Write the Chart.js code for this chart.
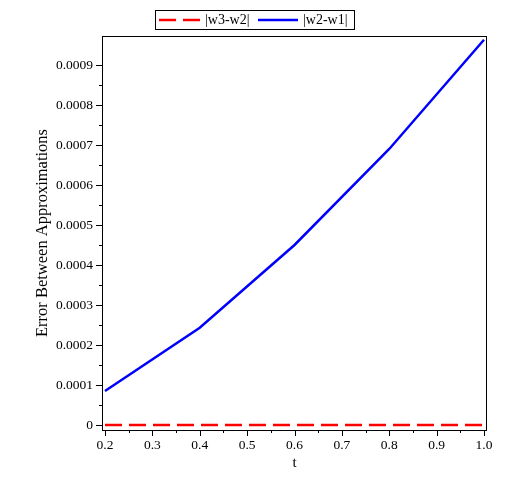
<!DOCTYPE html>
<html>
<head>
<meta charset="utf-8">
<script src="https://cdn.jsdelivr.net/npm/chart.js@4"></script>
<style>
  html, body { margin: 0; padding: 0; background: #fff; }
  #wrap { width: 516px; height: 488px; }
</style>
</head>
<body>
<div id="wrap"><canvas id="myChart" width="516" height="488"></canvas></div>
<script>
// values
const tValues = [0.2, 0.4, 0.6, 0.8, 1.0]
const err32 = [0, 0, 0, 0, 0]                                   // |w3-w2|
const err21 = [0.000085, 0.000243, 0.00045, 0.00069, 0.000963]  // |w2-w1|

const xTicks = [0.2, 0.3, 0.4, 0.5, 0.6, 0.7, 0.8, 0.9, 1.0]
const xTickLabels = ['0.2', '0.3', '0.4', '0.5', '0.6', '0.7', '0.8', '0.9', '1.0']
const yTicks = [0, 0.0001, 0.0002, 0.0003, 0.0004, 0.0005, 0.0006, 0.0007, 0.0008, 0.0009]
const yTickLabels = ['0', '0.0001', '0.0002', '0.0003', '0.0004', '0.0005', '0.0006', '0.0007', '0.0008', '0.0009']

const FONT = '"Liberation Serif", "Times New Roman", serif'

function toPoints(ys) {
  return tValues.map((t, i) => ({ x: t, y: ys[i] }))
}

function midpoints(arr) {
  const out = []
  for (let i = 0; i < arr.length - 1; i++) out.push((arr[i] + arr[i + 1]) / 2)
  return out
}

// box round the plot + outward tick marks
const frame = {
  id: 'frame',
  afterDraw(chart) {
    const { ctx, chartArea: a, scales: { x, y } } = chart
    ctx.save()
    ctx.strokeStyle = '#000'
    ctx.lineWidth = 1
    ctx.strokeRect(a.left + 0.5, a.top + 0.5, a.right - a.left - 1, a.bottom - a.top)
    ctx.beginPath()
    xTicks.forEach(v => {
      const px = Math.round(x.getPixelForValue(v)) + 0.5
      ctx.moveTo(px, a.bottom); ctx.lineTo(px, a.bottom + 6)
    })
    midpoints(xTicks).forEach(v => {
      const px = Math.round(x.getPixelForValue(v)) + 0.5
      ctx.moveTo(px, a.bottom); ctx.lineTo(px, a.bottom + 3)
    })
    yTicks.forEach(v => {
      const py = Math.round(y.getPixelForValue(v)) + 0.5
      ctx.moveTo(a.left, py); ctx.lineTo(a.left - 6, py)
    })
    midpoints(yTicks).forEach(v => {
      const py = Math.round(y.getPixelForValue(v)) + 0.5
      ctx.moveTo(a.left, py); ctx.lineTo(a.left - 3, py)
    })
    ctx.stroke()
    ctx.restore()
  }
}

// boxed legend on top
const boxLegend = {
  id: 'boxLegend',
  afterDraw(chart) {
    const ctx = chart.ctx
    const ds = chart.data.datasets
    ctx.save()
    ctx.strokeStyle = '#000'
    ctx.lineWidth = 1
    ctx.strokeRect(155.5, 10.5, 199, 19)
    ctx.font = '14px ' + FONT
    ctx.textBaseline = 'middle'
    ctx.fillStyle = '#000'
    const items = [
      { x0: 159, x1: 200, tx: 205 },
      { x0: 258, x1: 298, tx: 303 }
    ]
    items.forEach((it, i) => {
      ctx.beginPath()
      ctx.strokeStyle = ds[i].borderColor
      ctx.lineWidth = 2.5
      ctx.setLineDash(ds[i].borderDash || [])
      ctx.moveTo(it.x0, 20); ctx.lineTo(it.x1, 20)
      ctx.stroke()
      ctx.setLineDash([])
      ctx.fillText(ds[i].label, it.tx, 20)
    })
    ctx.restore()
  }
}

const ctx = document.getElementById('myChart')

new Chart(ctx, {
  type: 'line',
  data: {
    datasets: [{
      label: '|w3-w2|',
      data: toPoints(err32),
      borderColor: '#ff0000',
      borderWidth: 2.5,
      borderDash: [17, 7],
      pointRadius: 0,
      fill: false
    }, {
      label: '|w2-w1|',
      data: toPoints(err21),
      borderColor: '#0000ff',
      borderWidth: 2.5,
      pointRadius: 0,
      fill: false
    }]
  },
  options: {
    responsive: false,
    animation: false,
    layout: { padding: { top: 36, right: 29, left: 0, bottom: 0 } },
    plugins: {
      legend: { display: false },
      tooltip: { enabled: false }
    },
    scales: {
      x: {
        type: 'linear',
        min: 0.19367,
        max: 1.00633,
        afterBuildTicks: s => { s.ticks = xTicks.map(v => ({ value: v })) },
        afterFit: s => { s.height = 58 },
        grid: { display: false, drawTicks: false },
        border: { display: false },
        ticks: {
          autoSkip: false,
          maxRotation: 0,
          padding: 7,
          color: '#000',
          font: { family: FONT, size: 13.5 },
          callback: v => xTickLabels[xTicks.indexOf(v)]
        },
        title: {
          display: true,
          text: 't',
          color: '#000',
          font: { family: FONT, size: 15 },
          padding: { top: 0, bottom: 16 }
        }
      },
      y: {
        type: 'linear',
        min: -0.0000125,
        max: 0.0009725,
        afterBuildTicks: s => { s.ticks = yTicks.map(v => ({ value: v })) },
        afterFit: s => { s.width = 102 },
        grid: { display: false, drawTicks: false },
        border: { display: false },
        ticks: {
          autoSkip: false,
          padding: 9,
          color: '#000',
          font: { family: FONT, size: 13.5 },
          callback: v => yTickLabels[yTicks.indexOf(v)]
        },
        title: {
          display: true,
          text: 'Error Between Approximations',
          color: '#000',
          font: { family: FONT, size: 16.5 },
          padding: { top: 33, bottom: 0 }
        }
      }
    }
  },
  plugins: [frame, boxLegend]
})
</script>
</body>
</html>
